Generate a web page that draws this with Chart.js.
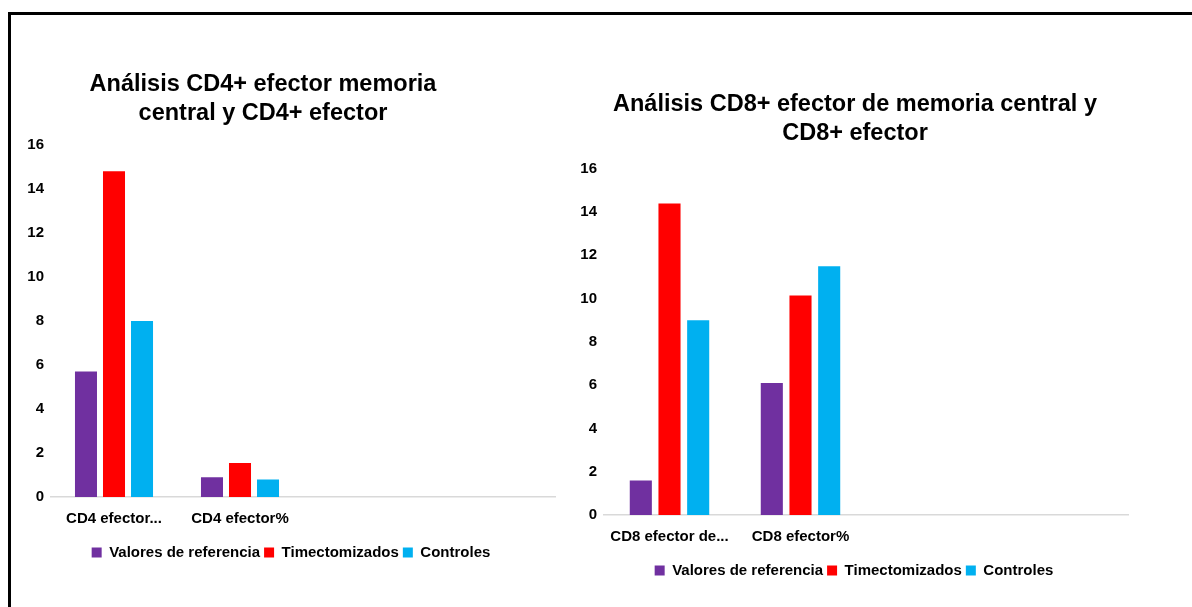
<!DOCTYPE html>
<html lang="es">
<head>
<meta charset="utf-8">
<title>Análisis CD4+ y CD8+ efector</title>
<script src="https://cdn.jsdelivr.net/npm/chart.js@4/dist/chart.umd.min.js"></script>
<style>
  html, body { margin: 0; padding: 0; background: #fff; }
  body { width: 1192px; height: 607px; position: relative; overflow: hidden; }
  .frame { position: absolute; left: 8px; top: 12px; width: 1200px; height: 620px;
           border-top: 3px solid #000; border-left: 3px solid #000; box-sizing: border-box; }
  canvas { position: absolute; top: 0; }
  #cd4 { left: 0px; }
  #cd8 { left: 576px; }
</style>
</head>
<body>
<div class="frame"></div>
<canvas id="cd4" width="574" height="607"></canvas>
<canvas id="cd8" width="616" height="607"></canvas>
<script>
// Series names and colours shared by both panels
const seriesNames = ['Valores de referencia', 'Timectomizados', 'Controles'];
const seriesColors = ['#7030A0', '#FF0000', '#00B0F0'];

// CD4+ panel
const cd4Title = ['Análisis CD4+ efector memoria', 'central y CD4+ efector'];
const cd4Categories = ['CD4 efector...', 'CD4 efector%', '', ''];
const cd4Referencia = [5.7, 0.9, null, null];
const cd4Timectomizados = [14.8, 1.55, null, null];
const cd4Controles = [8.0, 0.8, null, null];

// CD8+ panel
const cd8Title = ['Análisis CD8+ efector de memoria central y', 'CD8+ efector'];
const cd8Categories = ['CD8 efector de...', 'CD8 efector%', '', ''];
const cd8Referencia = [1.6, 6.1, null, null];
const cd8Timectomizados = [14.4, 10.15, null, null];
const cd8Controles = [9.0, 11.5, null, null];

// Value axis ticks
const yTicks = [0, 2, 4, 6, 8, 10, 12, 14, 16];

const FONT = '"Liberation Sans", Arial, Helvetica, sans-serif';

// Moves the title block sideways after layout (titles are not centred over the legend)
const shiftTitle = {
  id: 'shiftTitle',
  afterLayout(chart, args, opts) {
    const t = chart.titleBlock;
    if (t && opts && opts.dx) { t.left += opts.dx; t.right += opts.dx; }
  }
};

function buildChart(id, cfg) {
  const datasets = [cfg.ref, cfg.tim, cfg.con].map((values, i) => ({
    label: seriesNames[i],
    data: values,
    backgroundColor: seriesColors[i],
    borderWidth: 0,
    categoryPercentage: cfg.catPct,
    barPercentage: cfg.barPct
  }));
  return new Chart(document.getElementById(id), {
    type: 'bar',
    data: { labels: cfg.categories, datasets },
    plugins: [shiftTitle],
    options: {
      responsive: false,
      animation: false,
      devicePixelRatio: 1,
      layout: { padding: cfg.padding },
      plugins: {
        shiftTitle: { dx: cfg.titleDx },
        tooltip: { enabled: false },
        title: {
          display: true,
          text: cfg.title,
          color: '#000',
          font: { family: FONT, size: 23.5, weight: 'bold', lineHeight: 1.23 },
          padding: cfg.titlePad
        },
        legend: {
          position: 'bottom',
          labels: {
            color: '#000',
            boxWidth: 10,
            boxHeight: 10,
            padding: 4,
            font: { family: FONT, size: 15, weight: 'bold' }
          }
        }
      },
      scales: {
        x: {
          grid: { display: false, drawTicks: false },
          border: { display: true, color: '#d9d9d9', width: 1.5 },
          ticks: {
            color: '#000',
            padding: 13,
            maxRotation: 0,
            autoSkip: false,
            font: { family: FONT, size: 15, weight: 'bold' }
          }
        },
        y: {
          min: yTicks[0],
          max: yTicks[yTicks.length - 1],
          afterBuildTicks(scale) { scale.ticks = yTicks.map(v => ({ value: v })); },
          afterFit(scale) { scale.width = cfg.yAxisWidth; },
          grid: { display: false, drawTicks: false },
          border: { display: false },
          ticks: {
            color: '#000',
            padding: 7,
            font: { family: FONT, size: 15, weight: 'bold' }
          }
        }
      }
    }
  });
}

buildChart('cd4', {
  title: cd4Title,
  categories: cd4Categories,
  ref: cd4Referencia, tim: cd4Timectomizados, con: cd4Controles,
  catPct: 0.667, barPct: 0.786,
  padding: { left: 27, right: 19, top: 0, bottom: 37 },
  titlePad: { top: 70, bottom: 17 },
  titleDx: -28,
  yAxisWidth: 24
});

buildChart('cd8', {
  title: cd8Title,
  categories: cd8Categories,
  ref: cd8Referencia, tim: cd8Timectomizados, con: cd8Controles,
  catPct: 0.657, barPct: 0.77,
  padding: { left: 4, right: 64, top: 0, bottom: 19 },
  titlePad: { top: 90, bottom: 21 },
  titleDx: 1,
  yAxisWidth: 24
});
</script>
</body>
</html>
